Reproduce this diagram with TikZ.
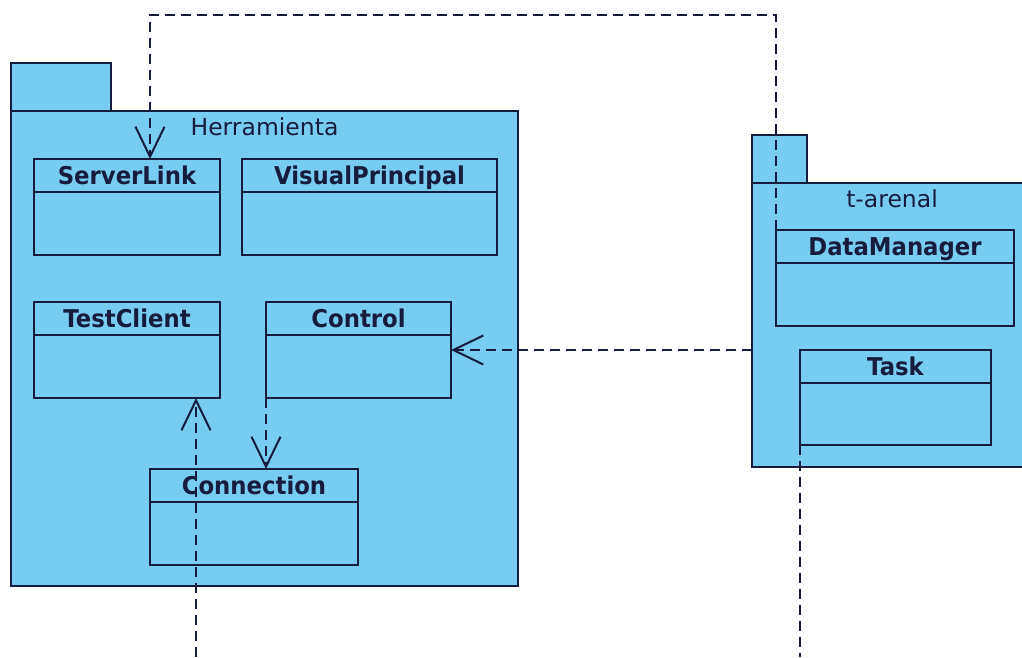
\documentclass[tikz,border=0pt]{standalone}
\usepackage{fontspec}
\usepackage{graphicx}
\setmainfont{DejaVu Sans}
\usetikzlibrary{arrows.meta}

\definecolor{pkgfill}{RGB}{120,204,242}
\definecolor{ink}{RGB}{22,28,62}

\tikzset{
  outline/.style={draw=ink, line width=2.2pt},
  boxshape/.style={outline, fill=pkgfill, rectangle, inner sep=0pt, outer sep=0pt, anchor=north west},
  clsname/.style={text=ink, font=\bfseries\fontsize{24.5}{24.5}\selectfont, anchor=base, inner sep=0pt},
  pkgname/.style={text=ink, font=\fontsize{23.5}{23.5}\selectfont, anchor=base, inner sep=0pt},
  dep/.style={draw=ink, line width=2.2pt, dash pattern=on 10pt off 6pt},
  opentip/.style={-{Straight Barb[length=30pt,width=29pt,line width=2pt]}},
}

% \classbox{name}{left}{top}{right}{bottom}{label}
\newcommand{\classbox}[6]{%
  \node[boxshape, minimum width=#4pt-#2pt, minimum height=#5pt-#3pt] (#1) at (#2,#3) {};
  \draw[outline] ([yshift=-33pt]#1.north west) -- ([yshift=-33pt]#1.north east);
  \node[clsname] (#1-name) at ([yshift=-25pt]#1.north) {\scalebox{0.93}[1]{#6}};}

% \umlpackage{name}{left}{tabtop}{tabright}{top}{right}{bottom}{label}
\newcommand{\umlpackage}[8]{%
  \node[boxshape, minimum width=#4pt-#2pt, minimum height=#5pt-#3pt] (#1-tab) at (#2,#3) {};
  \node[boxshape, minimum width=#6pt-#2pt, minimum height=#7pt-#5pt] (#1) at (#2,#5) {};
  \node[pkgname] (#1-name) at ([yshift=-24pt]#1.north) {#8};}

\begin{document}
\begin{tikzpicture}[x=1pt, y=-1pt]
  \useasboundingbox (0,0) rectangle (1022,657);
  \clip (0,0) rectangle (1022,657);

  % packages
  \umlpackage{herramienta}{11}{63}{111}{111}{518}{586}{Herramienta}
  \umlpackage{tarenal}{752}{135}{807}{183}{1032}{467}{t-arenal}

  % classes of Herramienta
  \classbox{serverlink}{34}{159}{220}{255}{ServerLink}
  \classbox{visualprincipal}{242}{159}{497}{255}{VisualPrincipal}
  \classbox{testclient}{34}{302}{220}{398}{TestClient}
  \classbox{control}{266}{302}{451}{398}{Control}
  \classbox{connection}{150}{469}{358}{565}{Connection}

  % classes of t-arenal
  \classbox{datamanager}{776}{230}{1014}{326}{DataManager}
  \classbox{task}{800}{350}{991}{445}{Task}

  % dependencies
  \coordinate (topR) at (776,15);
  \coordinate (topL) at (150,15);
  \coordinate (lowA) at (196,657);
  \coordinate (lowB) at (800,657);

  \draw[dep, opentip] (datamanager.north west) -- (topR) -- (topL) -- (topL |- serverlink.north);
  \draw[dep, opentip] (tarenal.west |- control.east) -- (control.east);
  \draw[dep, opentip] (control.south west) -- (control.south west |- connection.north);
  \draw[dep, opentip] (lowA) -- (lowA |- testclient.south);
  \draw[dep] (task.south west) -- (lowB);
\end{tikzpicture}
\end{document}
